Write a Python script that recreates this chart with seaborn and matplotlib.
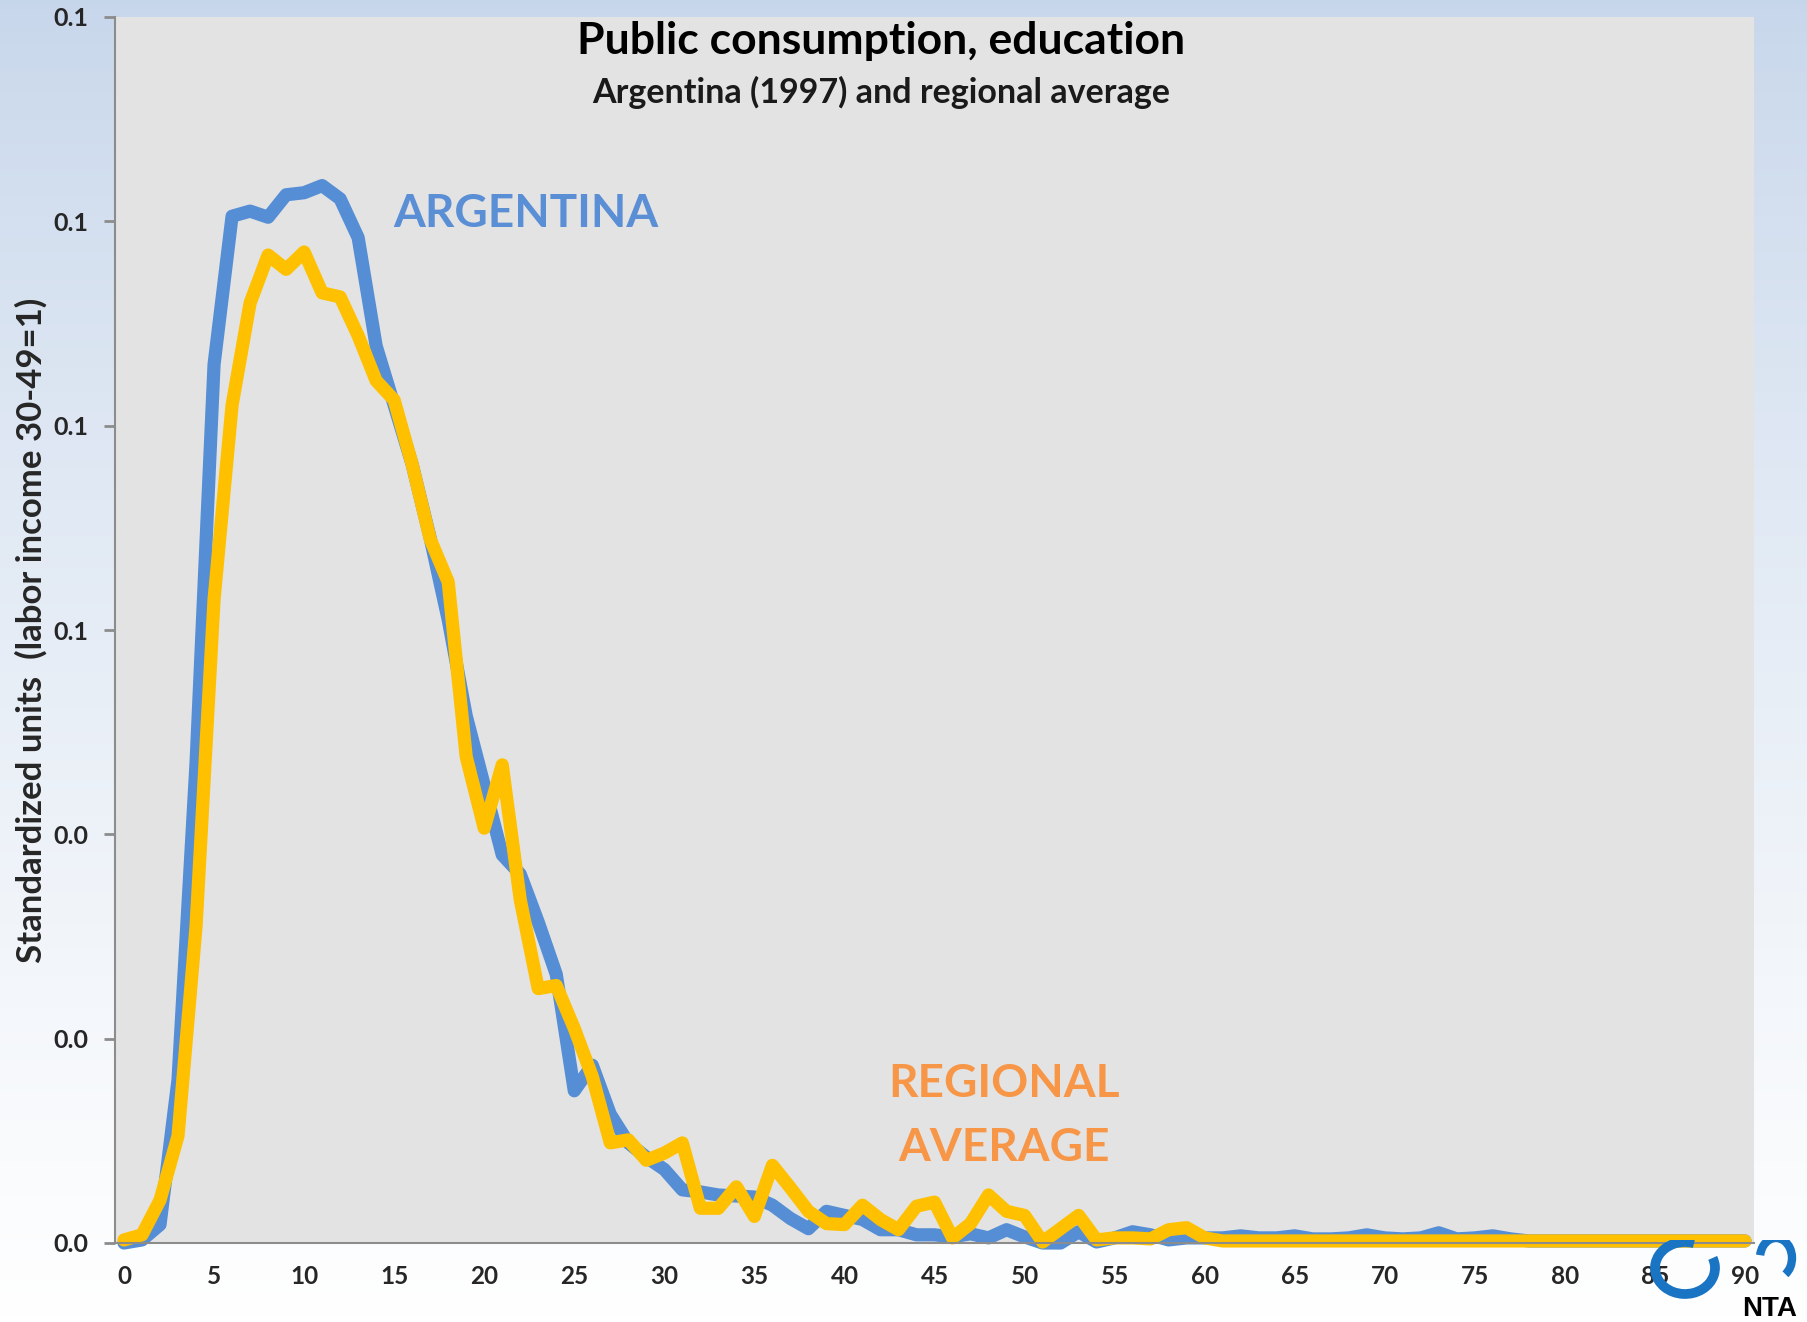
import matplotlib
matplotlib.use("Agg")
import matplotlib.pyplot as plt
from matplotlib.patches import Arc
from matplotlib.ticker import FixedLocator, FormatStrFormatter
import numpy as np
import pandas as pd
import seaborn as sns

AGES = list(range(91))

ARGENTINA = [
    0.0, 0.0003, 0.0018, 0.016, 0.047, 0.086, 0.1005, 0.101, 0.1004, 0.1026,
    0.1028, 0.1035, 0.1022, 0.0984, 0.0878, 0.082, 0.0762, 0.069, 0.061, 0.0516,
    0.0448, 0.038, 0.0361, 0.0314, 0.0263, 0.0149, 0.0174, 0.0126, 0.0098, 0.0084,
    0.0072, 0.0052, 0.005, 0.0047, 0.0046, 0.0045, 0.0037, 0.0024, 0.0014, 0.0031,
    0.0027, 0.0023, 0.0013, 0.0013, 0.0008, 0.0008, 0.0006, 0.0009, 0.0005, 0.0013,
    0.0006, 0.0, 0.0, 0.0011, 0.0001, 0.0005, 0.0011, 0.0008, 0.0003, 0.0005,
    0.0005, 0.0005, 0.0007, 0.0005, 0.0005, 0.0007, 0.0004, 0.0004, 0.0005, 0.0008,
    0.0005, 0.0004, 0.0005, 0.001, 0.0004, 0.0005, 0.0007, 0.0004, 0.0002, 0.0002,
    0.0002, 0.0002, 0.0002, 0.0002, 0.0002, 0.0002, 0.0002, 0.0002, 0.0002, 0.0002,
    0.0002,
]

REGIONAL = [
    0.0003, 0.0008, 0.0042, 0.0105, 0.031, 0.063, 0.082, 0.092, 0.0967, 0.0953,
    0.097, 0.093, 0.0926, 0.0888, 0.0844, 0.0825, 0.0762, 0.0689, 0.0647, 0.0476,
    0.0406, 0.0468, 0.0336, 0.0249, 0.0252, 0.021, 0.0163, 0.0098, 0.0101, 0.0081,
    0.0088, 0.0098, 0.0034, 0.0034, 0.0055, 0.0026, 0.0076, 0.0054, 0.0031, 0.0019,
    0.0018, 0.0037, 0.0023, 0.0013, 0.0036, 0.004, 0.0005, 0.0019, 0.0047, 0.0031,
    0.0027, 0.0001, 0.0014, 0.0027, 0.0003, 0.0005, 0.0005, 0.0004, 0.0013, 0.0015,
    0.0005, 0.0002, 0.0002, 0.0002, 0.0002, 0.0002, 0.0002, 0.0002, 0.0002, 0.0002,
    0.0002, 0.0002, 0.0002, 0.0002, 0.0002, 0.0002, 0.0002, 0.0002, 0.0002, 0.0002,
    0.0002, 0.0002, 0.0002, 0.0002, 0.0002, 0.0002, 0.0002, 0.0002, 0.0002, 0.0002,
    0.0002,
]

SERIES_ORDER = ["Argentina", "Regional average"]
PALETTE = {"Argentina": "#558ed5", "Regional average": "#ffc000"}
X_TICKS = list(range(0, 91, 5))
Y_TICKS = [0.0, 0.02, 0.04, 0.06, 0.08, 0.10, 0.12]

W, H = 1807, 1322

sns.set_theme(style="white")
plt.rcParams["font.family"] = ["Lato", "DejaVu Sans"]
plt.rcParams["font.weight"] = "bold"


def fx(px):
    return px / W


def fy(py):
    return 1 - py / H


df = pd.concat(
    [
        pd.DataFrame({"age": AGES, "value": ARGENTINA, "series": "Argentina"}),
        pd.DataFrame({"age": AGES, "value": REGIONAL, "series": "Regional average"}),
    ],
    ignore_index=True,
)

fig = plt.figure(figsize=(W / 100, H / 100), dpi=100)

# slide-style background: light blue at the top fading to white
bg = fig.add_axes([0, 0, 1, 1], zorder=-10)
top = np.array([0.78, 0.84, 0.92])
bottom = np.array([1.0, 1.0, 1.0])
t = np.linspace(0, 1, 256)[:, None] ** 0.8
grad = np.clip(top * (1 - t) + bottom * t, 0, 1)
bg.imshow(grad[:, None, :].repeat(8, axis=1), aspect="auto", extent=[0, 1, 0, 1])
bg.set_axis_off()

ax = fig.add_axes([fx(115), fy(1243), fx(1754) - fx(115), fy(17) - fy(1243)])
ax.set_facecolor("#e3e3e3")

sns.lineplot(
    data=df,
    x="age",
    y="value",
    hue="series",
    hue_order=SERIES_ORDER,
    palette=PALETTE,
    linewidth=9.5,
    legend=False,
    ax=ax,
)
for line in ax.lines:
    line.set_solid_joinstyle("round")
    line.set_solid_capstyle("round")
    line.set_clip_on(False)

ax.set_xlim(-0.5, 90.5)
ax.set_ylim(0, 0.12)
ax.set_xlabel("")
ax.set_ylabel("Standardized units  (labor income 30-49=1)", fontsize=25, fontweight="bold")
ax.yaxis.set_label_coords(-0.041, 0.5)

ax.xaxis.set_major_locator(FixedLocator(X_TICKS))
ax.xaxis.set_minor_locator(FixedLocator(np.arange(-0.5, 91, 1)))
ax.yaxis.set_major_locator(FixedLocator(Y_TICKS))
ax.yaxis.set_major_formatter(FormatStrFormatter("%.1f"))
ax.tick_params(axis="x", which="major", length=0, pad=16, labelsize=17.5)
ax.tick_params(axis="x", which="minor", length=8, width=2, color="#8c8c8c", direction="out")
ax.tick_params(axis="y", which="major", length=8, width=2, color="#8c8c8c", direction="out",
               pad=11, labelsize=18, left=True)

for side in ["top", "right"]:
    ax.spines[side].set_visible(False)
for side in ["left", "bottom"]:
    ax.spines[side].set_color("#8c8c8c")
    ax.spines[side].set_linewidth(1.5)

fig.text(fx(881), fy(41), "Public consumption, education", ha="center", va="center",
         fontsize=32, fontweight="bold", color="black")
fig.text(fx(881), fy(92), "Argentina (1997) and regional average", ha="center", va="center",
         fontsize=24.5, fontweight="bold", color="#1a1a1a")
fig.text(fx(526), fy(214), "ARGENTINA", ha="center", va="center",
         fontsize=33, fontweight="bold", color="#5a8fd6")
fig.text(fx(1004), fy(1084), "REGIONAL", ha="center", va="center",
         fontsize=33, fontweight="bold", color="#f79646")
fig.text(fx(1004), fy(1148), "AVERAGE", ha="center", va="center",
         fontsize=33, fontweight="bold", color="#f79646")

# NTA logo mark
logo = fig.add_axes([fx(1640), fy(1322), fx(1807) - fx(1640), fy(1240) - fy(1322)], zorder=5)
logo.set_xlim(0, 167)
logo.set_ylim(82, 0)
logo.set_axis_off()
logo.add_patch(Arc((45, 28), 60, 52, theta1=-20, theta2=290, color="#1a74c4", linewidth=7))
logo.add_patch(Arc((136, 18), 32, 40, theta1=190, theta2=60, color="#1a74c4", linewidth=6))
logo.text(130, 81.5, "NTA", ha="center", va="bottom", fontsize=20, fontweight="bold",
          color="black", family=["Liberation Sans Narrow", "Liberation Sans", "DejaVu Sans"])

fig.savefig("out.png", dpi=100)
plt.close(fig)
